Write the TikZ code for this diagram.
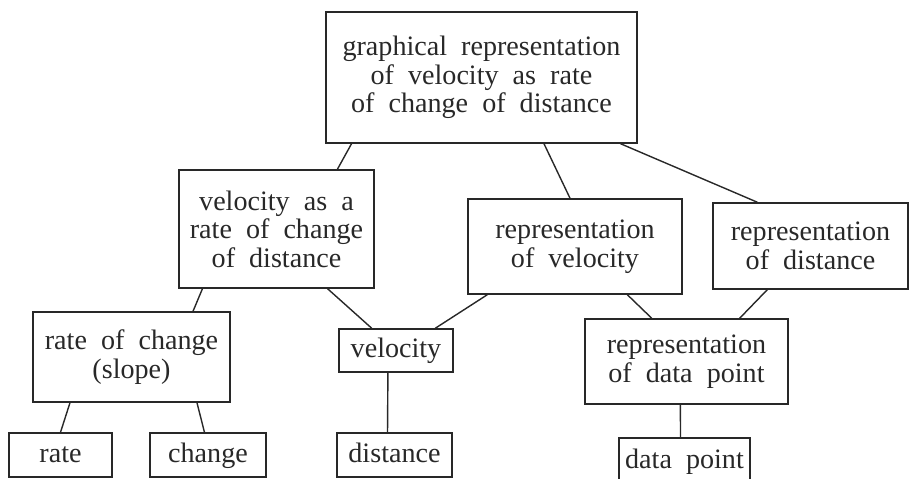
\documentclass[tikz,border=0pt]{standalone}
\usepackage{fontspec}
\setmainfont{Liberation Serif}
\usetikzlibrary{calc}
\definecolor{ink}{RGB}{40,40,40}
\newcommand{\boxfont}{\fontsize{16}{16.2}\selectfont\spaceskip=0.5em plus 0.1em\relax}
\tikzset{
  box/.style={draw=ink, line width=0.8pt, text=ink, align=center, inner sep=0pt,
    font=\boxfont},
  word/.style={box, text height=11pt, text depth=3pt},
  link/.style={draw=ink, line width=0.8pt}
}
\begin{document}
\begin{tikzpicture}
\useasboundingbox (0,0) rectangle (18.2,-9.58);
\node[box, minimum width=6.22cm, minimum height=2.62cm] (graph) at (9.63,-1.55)
  {graphical representation\\of velocity as rate\\of change of distance};
\node[box, minimum width=3.90cm, minimum height=2.36cm] (velrate) at (5.53,-4.58)
  {velocity as a\\rate of change\\of distance};
\node[box, minimum width=4.28cm, minimum height=1.90cm] (repvel) at (11.50,-4.93)
  {representation\\of velocity};
\node[box, minimum width=3.90cm, minimum height=1.72cm] (repdist) at (16.21,-4.92)
  {representation\\of distance};
\node[box, minimum width=3.94cm, minimum height=1.80cm] (slope) at (2.63,-7.14)
  {rate of change\\(slope)};
\node[word, minimum width=2.28cm, minimum height=0.86cm] (vel) at (7.92,-7.01) {velocity};
\node[box, minimum width=4.06cm, minimum height=1.70cm] (repdp) at (13.73,-7.23)
  {representation\\of data point};
\node[word, minimum width=2.06cm, minimum height=0.88cm] (rate) at (1.21,-9.10) {rate};
\node[word, minimum width=2.32cm, minimum height=0.88cm] (change) at (4.16,-9.10) {change};
\node[word, minimum width=2.30cm, minimum height=0.88cm] (dist) at (7.89,-9.10) {distance};
\node[word, minimum width=2.62cm, minimum height=0.92cm] (dp) at (13.69,-9.22) {data point};

% upper level
\draw[link] ($(graph.south west)!.084!(graph.south east)$) -- ($(velrate.north west)!.81!(velrate.north east)$);
\draw[link] ($(graph.south west)!.70!(graph.south east)$) -- ($(repvel.north west)!.477!(repvel.north east)$);
\draw[link] ($(graph.south west)!.945!(graph.south east)$) -- ($(repdist.north west)!.23!(repdist.north east)$);
% middle level
\draw[link] ($(velrate.south west)!.123!(velrate.south east)$) -- ($(slope.north west)!.81!(slope.north east)$);
\draw[link] ($(velrate.south west)!.76!(velrate.south east)$) -- ($(vel.north west)!.29!(vel.north east)$);
\draw[link] ($(repvel.south west)!.093!(repvel.south east)$) -- ($(vel.north west)!.84!(vel.north east)$);
\draw[link] ($(repvel.south west)!.743!(repvel.south east)$) -- ($(repdp.north west)!.33!(repdp.north east)$);
\draw[link] ($(repdist.south west)!.28!(repdist.south east)$) -- ($(repdp.north west)!.76!(repdp.north east)$);
% lower level
\draw[link] ($(slope.south west)!.19!(slope.south east)$) -- ($(rate.north west)!.5!(rate.north east)$);
\draw[link] ($(slope.south west)!.83!(slope.south east)$) -- ($(change.north west)!.47!(change.north east)$);
\draw[link] ($(vel.south west)!.43!(vel.south east)$) -- ($(dist.north west)!.44!(dist.north east)$);
\draw[link] ($(repdp.south west)!.47!(repdp.south east)$) -- ($(dp.north west)!.47!(dp.north east)$);
\end{tikzpicture}
\end{document}
